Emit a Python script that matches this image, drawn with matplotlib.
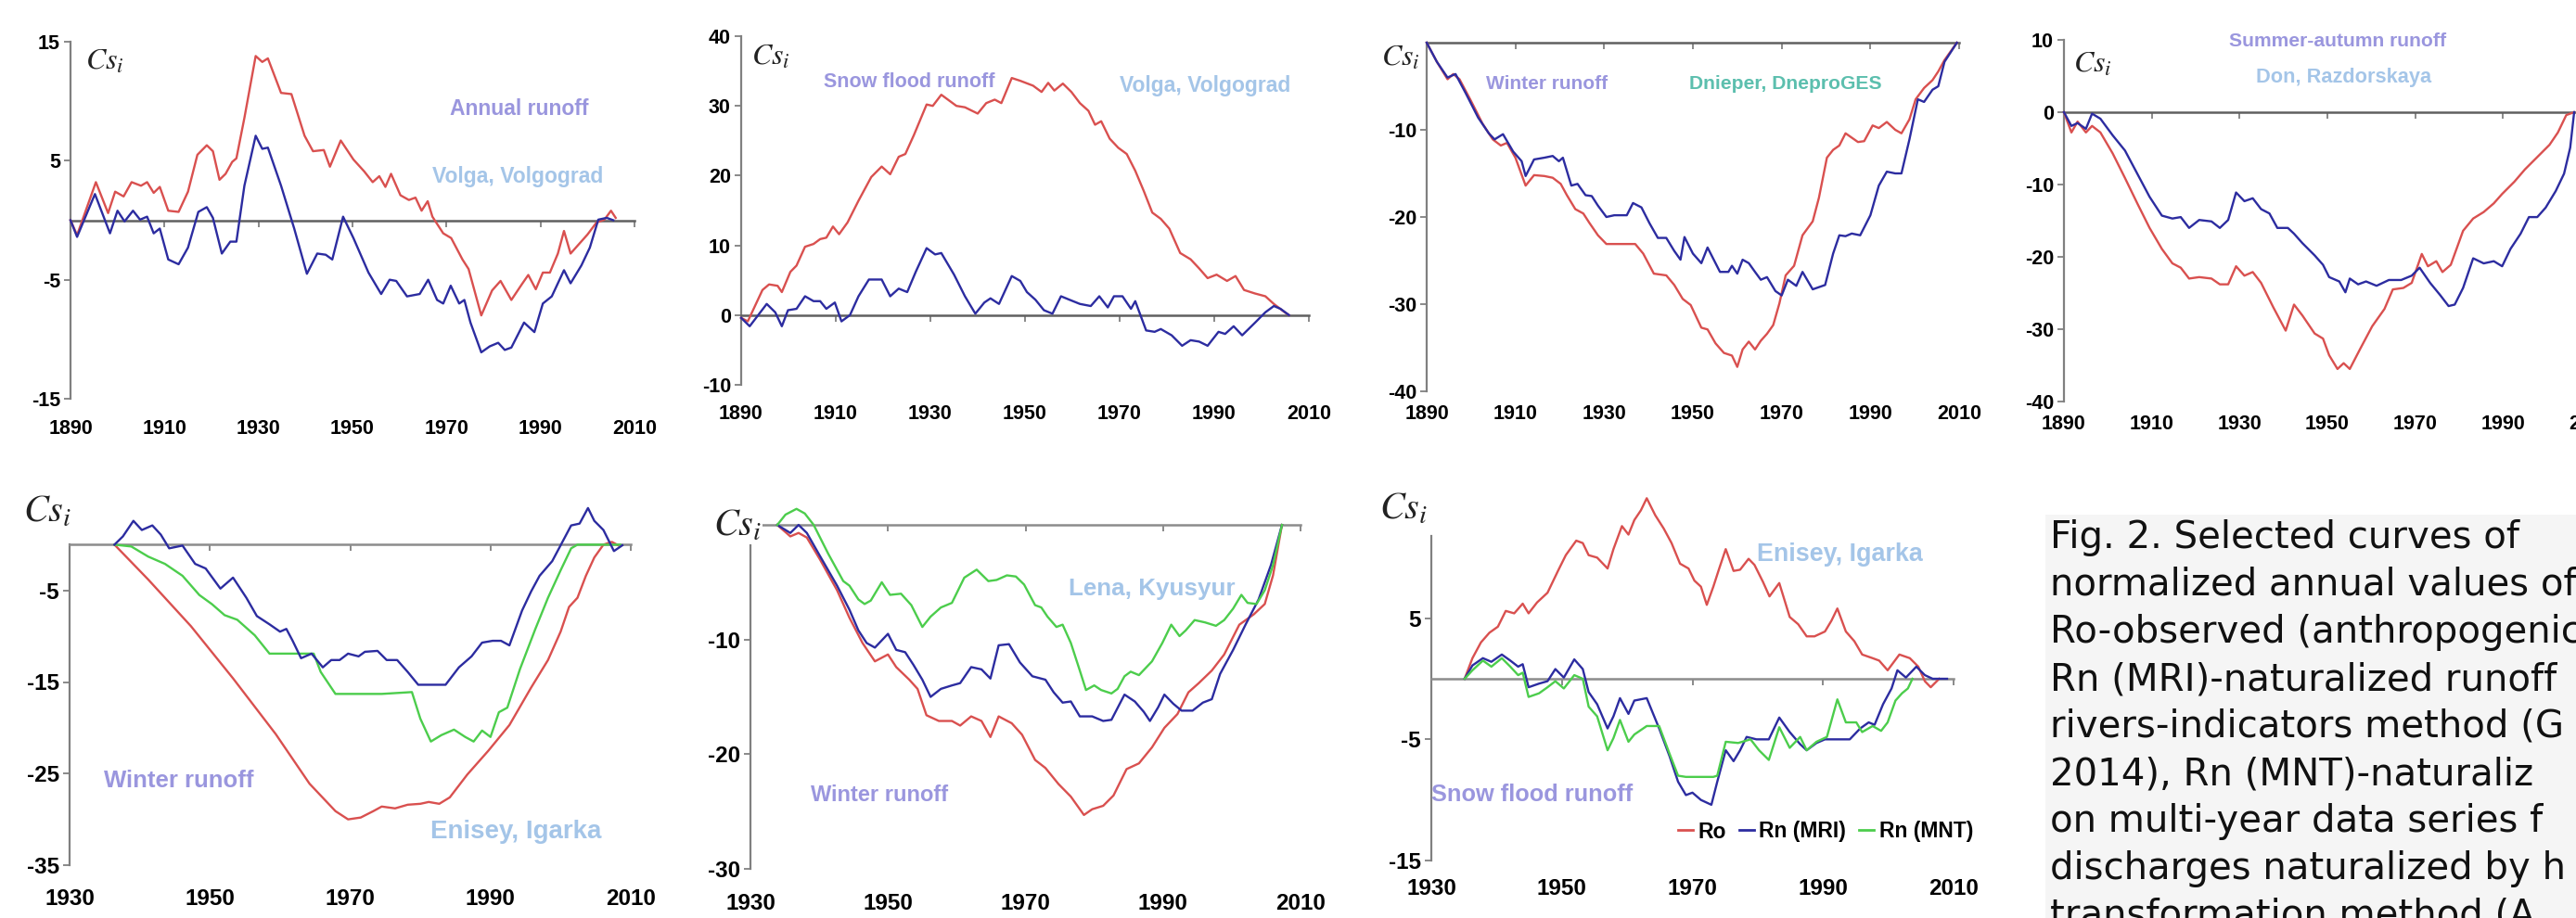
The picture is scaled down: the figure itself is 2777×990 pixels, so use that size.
import numpy as np
import matplotlib
matplotlib.use("Agg")
import matplotlib.pyplot as plt
from matplotlib.lines import Line2D
from matplotlib.patches import Rectangle

plt.rcParams['font.family'] = ['Liberation Sans', 'DejaVu Sans']
plt.rcParams['mathtext.fontset'] = 'stix'
plt.rcParams['axes.unicode_minus'] = False

# ---------------- data (year, Cs_i) ----------------
# Panel 1: Volga, Volgograd - annual runoff
ro1 = [(1890,0),(1891.4,-1.25),(1895.4,3.2),(1898,0.6),(1899.5,2.4),(1901.3,2.0),(1903,3.2),(1905,2.9),(1906.3,3.2),
       (1907.7,2.3),(1909,2.8),(1910.8,0.8),(1913,0.7),(1915,2.4),(1917,5.5),(1919,6.3),(1920.3,5.8),(1921.7,3.4),
       (1923,3.9),(1924.4,4.9),(1925.3,5.2),(1927,8.6),(1929.4,13.8),(1930.8,13.3),(1932,13.6),(1934.8,10.7),
       (1937,10.6),(1939.8,7.1),(1941.6,5.8),(1943.9,5.9),(1945.2,4.5),(1947.5,6.7),(1950.2,5.1),(1952.5,4.1),
       (1954.3,3.2),(1955.7,3.7),(1957,2.8),(1958.2,3.9),(1960.2,2.1),(1962,1.7),(1963.4,1.9),(1964.7,0.8),
       (1966,1.6),(1967,0.3),(1969.3,-1.1),(1971,-1.5),(1973.4,-3.3),(1974.7,-4.1),(1977.4,-8.0),(1979.7,-5.9),
       (1981.5,-5.1),(1983.8,-6.7),(1986,-5.4),(1987.4,-4.6),(1989,-5.8),(1990.5,-4.4),(1992,-4.4),(1993.7,-2.8),
       (1995,-0.9),(1996.4,-2.8),(1998.2,-2.0),(2000,-1.2),(2001.9,-0.2),(2003.6,0.05),(2005,0.8),(2006,0.2)]
rn1 = [(1890,0),(1891.4,-1.4),(1895.2,2.2),(1898.4,-1.1),(1900,0.8),(1901.5,-0.1),(1903.3,0.8),(1904.8,0.05),
       (1906.3,0.3),(1907.7,-1.1),(1909,-0.7),(1910.8,-3.3),(1913,-3.7),(1915,-2.3),(1917.2,0.7),(1919,1.1),
       (1920.3,0.2),(1922.2,-2.8),(1924,-1.8),(1925.3,-1.8),(1927,2.9),(1929.4,7.1),(1930.8,6.0),(1932,6.1),
       (1934.8,2.9),(1937.6,-0.7),(1940.3,-4.5),(1942.5,-2.8),(1944.3,-2.9),(1945.7,-3.3),(1948,0.3),(1950.2,-1.5),
       (1953.4,-4.4),(1956.1,-6.2),(1957.9,-5.0),(1959.3,-5.1),(1961.6,-6.4),(1964.3,-6.2),(1966.1,-5.0),
       (1968,-6.7),(1969.3,-7.0),(1970.9,-5.5),(1972.7,-7.0),(1973.8,-6.7),(1975.1,-8.6),(1977.4,-11.1),
       (1979.2,-10.6),(1981,-10.3),(1982.4,-10.9),(1983.8,-10.7),(1986.5,-8.6),(1988.7,-9.4),(1990.5,-7.0),
       (1992.4,-6.4),(1995,-4.2),(1996.4,-5.3),(1998.7,-3.8),(2000.5,-2.3),(2002.3,0.05),(2004.1,0.2),(2005.5,0)]

# Panel 2: Volga, Volgograd - snow flood runoff
ro2 = [(1890,-0.4),(1891.4,-0.9),(1894.5,3.6),(1895.9,4.4),(1897.7,4.2),(1898.6,3.3),(1900.4,6.2),(1901.7,7.1),
       (1903.5,9.8),(1905.3,10.2),(1906.7,10.9),(1908,11.1),(1909.4,12.7),(1910.7,11.6),(1912.5,13.3),
       (1914.8,16.4),(1917.5,19.8),(1919.7,21.3),(1921.5,20.2),(1923.3,22.7),(1924.7,23.1),(1926.5,25.8),
       (1929.2,30.2),(1930.5,30.0),(1932.3,31.6),(1933.7,30.9),(1935.5,30.0),(1937.3,29.8),(1940,28.9),
       (1941.8,30.4),(1943.6,30.9),(1945,30.4),(1947.2,34.0),(1949,33.6),(1951.7,32.9),(1953.5,32.0),
       (1954.9,33.3),(1956.2,32.2),(1958,33.2),(1959.8,32.0),(1961.6,30.4),(1963.4,29.3),(1964.8,27.3),
       (1966.1,27.8),(1967.9,25.3),(1969.7,24.0),(1971.5,23.1),(1973.3,20.7),(1975.1,17.8),(1976.9,14.7),
       (1978.7,13.8),(1980.5,12.4),(1982.8,8.9),(1985,8.0),(1986.8,6.7),(1988.6,5.3),(1990.5,5.8),(1992.7,4.9),
       (1994.5,5.6),(1996.3,3.6),(1998.6,3.1),(2000.8,2.7),(2002.6,1.6),(2004.9,0.4),(2005.8,0)]
rn2 = [(1890,-0.4),(1891.8,-1.6),(1895.4,1.6),(1897.2,0.4),(1898.6,-1.6),(1899.9,0.7),(1901.7,0.9),(1903.5,2.7),
       (1905.3,2.0),(1906.7,2.0),(1908,0.9),(1909.8,1.8),(1911.2,-0.9),(1913,0),(1914.8,2.7),(1917,5.1),
       (1918.4,5.1),(1919.7,5.1),(1921.5,2.7),(1923.3,3.8),(1925.1,3.3),(1926.9,6.2),(1929.2,9.6),(1931,8.7),
       (1932.3,8.9),(1935,5.8),(1937.3,2.7),(1939.5,0.2),(1941.4,1.8),(1942.7,2.4),(1944.5,1.6),(1947.2,5.6),
       (1949,4.9),(1950.4,3.3),(1952.2,2.2),(1954,0.7),(1955.8,0.2),(1957.6,2.7),(1959.4,2.2),(1961.6,1.6),
       (1963.9,1.3),(1965.7,2.7),(1967.5,1.1),(1968.8,2.7),(1970.6,2.7),(1972.4,0.9),(1973.3,2.0),(1975.6,-2.2),
       (1977.4,-2.4),(1978.7,-2.0),(1981,-2.9),(1983.2,-4.4),(1985,-3.6),(1986.8,-3.8),(1988.6,-4.4),
       (1990.9,-2.4),(1992.3,-2.7),(1994.1,-1.6),(1995.9,-2.9),(1998.6,-1.1),(2000.8,0.4),(2002.6,1.3),
       (2004,0.9),(2005.8,0)]

# Panel 3: Dnieper, DneproGES - winter runoff
ro3 = [(1890,0),(1892.3,-2.2),(1894.7,-4.2),(1896,-3.6),(1897.4,-4.2),(1899.8,-6.5),(1902.6,-9.3),(1904.9,-11.1),
       (1906.7,-11.8),(1908.1,-11.5),(1910,-13.2),(1912.3,-16.4),(1914.2,-15.2),(1916.5,-15.3),(1918.4,-15.5),
       (1920.2,-16.2),(1921.6,-17.5),(1923.5,-19.1),(1925.3,-19.6),(1926.7,-20.7),(1928.6,-22.1),(1930.5,-23.1),
       (1934.2,-23.1),(1937,-23.1),(1938.8,-24.2),(1941.2,-26.5),(1944,-26.7),(1945.8,-27.8),(1947.7,-29.4),
       (1949.5,-30.1),(1951.9,-32.7),(1953.3,-32.9),(1955.1,-34.5),(1957,-35.6),(1958.8,-35.9),(1960,-37.2),
       (1961.2,-35.2),(1962.6,-34.3),(1964,-35.2),(1965.3,-34.2),(1966.7,-33.4),(1968.1,-32.4),(1969.5,-29.9),
       (1970.9,-26.7),(1972.8,-25.6),(1974.7,-22.1),(1977,-20.5),(1978.4,-17.8),(1980.2,-13.2),(1981.6,-12.3),
       (1983,-11.8),(1984.4,-10.4),(1985.8,-10.9),(1987.2,-11.4),(1988.6,-11.3),(1990.5,-9.5),(1991.9,-9.8),
       (1993.7,-9.1),(1995.6,-10.0),(1997,-10.4),(1998.8,-8.8),(2000.2,-6.5),(2002.1,-5.2),(2004,-4.3),
       (2005.3,-3.3),(2006.7,-2.0),(2009.5,0)]
rn3 = [(1890,0),(1892.3,-2.2),(1894.7,-4.0),(1896.5,-3.6),(1898.8,-5.8),(1901.6,-8.6),(1904,-10.4),(1905.3,-11.1),
       (1907.2,-10.5),(1909.5,-12.5),(1911.4,-13.6),(1912.3,-15.3),(1914.2,-13.4),(1916.5,-13.2),(1918.4,-13.0),
       (1919.8,-13.6),(1920.7,-13.2),(1922.6,-16.4),(1924,-16.2),(1925.8,-17.5),(1927.2,-17.6),(1928.6,-18.7),
       (1930.5,-20.0),(1932.3,-19.8),(1935.1,-19.8),(1936.5,-18.4),(1938.4,-18.9),(1940.2,-20.7),(1942.1,-22.4),
       (1944,-22.4),(1945.8,-23.9),(1947.2,-24.9),(1948.1,-22.3),(1950,-24.2),(1951.9,-25.3),(1953.3,-23.5),
       (1954.7,-24.9),(1956.1,-26.3),(1958,-26.3),(1958.8,-25.6),(1960,-26.5),(1961.2,-24.9),(1962.6,-25.3),
       (1964,-26.3),(1965.3,-27.2),(1966.7,-26.9),(1968.6,-28.5),(1970,-29.0),(1971.4,-27.2),(1973.3,-27.9),
       (1974.7,-26.3),(1977,-28.3),(1979.8,-27.8),(1981.6,-24.2),(1983,-22.1),(1984.4,-22.2),(1985.8,-21.9),
       (1987.7,-22.1),(1990,-19.8),(1991.9,-16.4),(1993.7,-14.8),(1995.6,-15.0),(1997,-15.0),(1998.8,-11.1),
       (2000.7,-6.5),(2002.1,-6.8),(2004,-5.4),(2005.3,-5.0),(2006.7,-2.2),(2009.5,0)]

# Panel 4: Don, Razdorskaya - summer-autumn runoff
ro4 = [(1890,0),(1891.7,-2.8),(1893.1,-1.3),(1895,-2.8),(1896.4,-1.9),(1898.3,-2.8),(1901.1,-5.7),(1903.9,-9.1),
       (1906.7,-12.6),(1909.5,-16.0),(1912.3,-18.9),(1914.7,-20.9),(1916.6,-21.5),(1918.5,-23.0),(1920.8,-22.8),
       (1923.6,-23.0),(1925.5,-23.8),(1927.4,-23.8),(1929.2,-21.3),(1931.1,-22.6),(1933,-22.1),(1934.9,-23.6),
       (1937.7,-27.0),(1940.5,-30.2),(1942.4,-26.6),(1944.3,-28.1),(1947.1,-30.6),(1949,-31.3),(1950.4,-33.6),
       (1952.3,-35.5),(1953.7,-34.7),(1955.1,-35.5),(1957.4,-32.8),(1960.2,-29.6),(1963,-27.2),(1964.9,-24.5),
       (1967.3,-24.3),(1969.2,-23.6),(1971.5,-19.6),(1972.9,-21.3),(1974.8,-20.6),(1976.2,-22.1),(1978.1,-21.1),
       (1980.9,-16.4),(1983.2,-14.7),(1985.6,-13.8),(1987.9,-12.6),(1989.8,-11.3),(1992.6,-9.6),(1995,-7.9),
       (1997.8,-6.2),(2000.6,-4.5),(2002.5,-2.8),(2004.4,-0.4),(2006.2,0)]
rn4 = [(1890,0),(1891.7,-1.9),(1893.1,-1.5),(1895,-2.3),(1896.4,-0.2),(1898.3,-0.9),(1901.1,-3.2),(1903.9,-5.3),
       (1906.7,-8.5),(1909.5,-11.7),(1912.3,-14.3),(1914.7,-14.7),(1916.6,-14.5),(1918.5,-16.0),(1920.8,-14.9),
       (1923.6,-15.1),(1925.5,-16.0),(1927.4,-14.9),(1929.2,-11.1),(1931.1,-12.3),(1933,-11.9),(1934.9,-13.4),
       (1936.8,-14.0),(1938.6,-16.0),(1941,-16.0),(1942.4,-16.8),(1944.3,-18.1),(1947.1,-19.8),(1949,-21.1),
       (1950.4,-22.8),(1952.7,-23.4),(1954.1,-24.9),(1955.1,-23.0),(1957,-23.8),(1958.8,-23.4),(1961.2,-24.0),
       (1964,-23.2),(1966.8,-23.2),(1969.2,-22.6),(1971,-21.5),(1973.4,-23.6),(1975.7,-25.3),(1977.6,-26.8),
       (1979,-26.6),(1980.9,-24.3),(1983.2,-20.2),(1985.6,-20.9),(1987.9,-20.6),(1989.8,-21.3),(1991.7,-18.9),
       (1994,-16.8),(1995.9,-14.5),(1997.8,-14.5),(1999.7,-13.2),(2002,-10.9),(2003.9,-8.5),(2005.3,-4.9),
       (2006.2,0)]

# Panel 5: Enisey, Igarka - winter runoff
ro5 = [(1936.4,0),(1941.2,-3.8),(1947.3,-8.9),(1953.3,-14.6),(1959.4,-20.7),(1964.2,-26.1),(1967.9,-29.1),
       (1969.7,-30.0),(1971.5,-29.8),(1973.3,-29.1),(1974.5,-28.6),(1976.4,-28.8),(1978.2,-28.4),(1980,-28.3),
       (1981.2,-28.1),(1982.7,-28.3),(1984.2,-27.6),(1986.7,-25.1),(1989.7,-22.5),(1992.7,-19.7),(1995.8,-15.6),
       (1998.2,-12.6),(2000,-9.5),(2001.2,-6.8),(2002.4,-5.8),(2003.6,-3.4),(2004.8,-1.4),(2006.1,0),
       (2007.3,0.3),(2008.2,-0.07)]
rn5 = [(1936.4,0),(1937.6,0.9),(1939.1,2.6),(1940.3,1.6),(1941.8,2.1),(1943,1.1),(1944.2,-0.4),(1946.1,-0.1),
       (1947.9,-2.1),(1949.4,-2.6),(1951.5,-4.8),(1953.3,-3.6),(1955.2,-5.8),(1956.7,-7.8),(1958.5,-8.7),
       (1960,-9.5),(1960.9,-9.2),(1961.8,-10.5),(1963,-12.4),(1964.5,-11.9),(1966.1,-13.4),(1967.3,-12.6),
       (1968.5,-12.6),(1969.7,-11.9),(1971.2,-12.2),(1972.1,-11.7),(1973.9,-11.6),(1975.2,-12.6),(1976.7,-12.6),
       (1978.2,-13.9),(1979.7,-15.3),(1981.2,-15.3),(1982.4,-15.3),(1983.6,-15.3),(1985.5,-13.4),(1987.3,-12.2),
       (1988.8,-10.7),(1990.3,-10.5),(1991.5,-10.5),(1992.7,-11.0),(1994.5,-7.2),(1995.8,-5.1),(1997,-3.4),
       (1998.8,-1.8),(2000,-0.07),(2001.5,2.1),(2002.7,2.3),(2003.9,4.0),(2004.8,2.6),(2006.1,1.6),
       (2007.6,-0.7),(2008.8,-0.07)]
mnt5 = [(1936.4,0),(1938.8,-0.2),(1941.2,-1.3),(1943.6,-2.1),(1946.1,-3.4),(1948.5,-5.5),(1950.3,-6.5),
        (1952.1,-7.7),(1953.9,-8.2),(1956.4,-9.9),(1958.5,-11.9),(1960,-11.9),(1963.6,-11.9),(1964.8,-11.9),
        (1965.8,-13.9),(1967.9,-16.3),(1970.3,-16.3),(1974.5,-16.3),(1978.8,-16.1),(1980,-19.0),(1981.5,-21.5),
        (1983,-20.8),(1984.8,-20.2),(1986.4,-21.0),(1987.6,-21.5),(1988.8,-20.3),(1990,-21.0),(1991.2,-18.3),
        (1992.4,-17.8),(1994.2,-13.6),(1996.4,-9.2),(1998.2,-5.8),(2000,-2.8),(2001.5,-0.4),(2002.4,0),
        (2008.5,0)]

# Panel 6: Lena, Kyusyur - winter runoff
ro6 = [(1933.9,0),(1935.8,-1.0),(1937,-0.7),(1938.2,-1.1),(1940.1,-3.0),(1942.6,-5.7),(1944.4,-8.1),(1946.3,-10.3),
       (1948.1,-11.9),(1950,-11.3),(1951.2,-12.4),(1953.1,-13.5),(1954.3,-14.3),(1955.6,-16.6),(1957.4,-17.1),
       (1959.3,-17.1),(1960.5,-17.5),(1962.1,-16.7),(1963.6,-17.1),(1964.9,-18.5),(1966.1,-16.7),(1968,-17.3),
       (1969.5,-18.3),(1971.4,-20.5),(1972.9,-21.2),(1974.8,-22.6),(1976.6,-23.7),(1978.5,-25.3),(1979.7,-24.8),
       (1981.3,-24.5),(1982.8,-23.6),(1984.7,-21.3),(1986.5,-20.8),(1988.4,-19.4),(1990.2,-17.7),(1992.1,-16.5),
       (1993.7,-14.6),(1995.2,-13.8),(1997.1,-12.7),(1998.9,-11.3),(2001.1,-8.7),(2003.2,-7.8),(2004.8,-6.9),
       (2006,-4.4),(2007.3,0)]
rn6 = [(1933.9,0),(1935.8,-0.7),(1937,0),(1938.2,-0.7),(1940.1,-2.7),(1942.6,-5.3),(1944.4,-7.4),(1945.7,-9.2),
       (1946.9,-10.3),(1948.1,-10.7),(1950,-9.5),(1951.2,-10.9),(1952.5,-11.1),(1953.7,-12.2),(1955,-13.5),
       (1956.2,-15.0),(1957.7,-14.3),(1959.3,-14.0),(1960.5,-13.8),(1962.1,-12.4),(1963.6,-12.6),(1964.9,-13.4),
       (1966.1,-10.5),(1967.6,-10.4),(1969.2,-12.0),(1971,-13.2),(1972.9,-13.5),(1974.1,-14.6),(1975.4,-15.5),
       (1976.6,-15.4),(1977.9,-16.7),(1979.7,-16.7),(1981.3,-17.1),(1982.5,-17.0),(1984.4,-14.8),(1985.9,-15.4),
       (1987.2,-16.3),(1988.1,-17.1),(1989.3,-15.9),(1990.2,-14.8),(1991.5,-15.6),(1992.7,-16.2),(1994.3,-16.2),
       (1995.8,-15.5),(1997.1,-15.2),(1998.3,-13.0),(2000.2,-10.9),(2002,-8.7),(2003.9,-6.5),(2005.7,-3.5),
       (2007.3,0)]
mnt6 = [(1933.9,0),(1935.1,0.9),(1936.7,1.4),(1937.9,1.0),(1939.2,0),(1941.3,-2.5),(1943.5,-4.9),(1944.4,-5.3),
        (1945.7,-6.5),(1946.6,-6.9),(1947.5,-6.6),(1949.1,-5.0),(1950.3,-6.1),(1951.9,-6.0),(1953.4,-7.0),
        (1955,-8.9),(1956.2,-8.0),(1957.7,-7.2),(1959.3,-6.8),(1961.1,-4.6),(1962.9,-3.9),(1964.6,-4.9),
        (1965.8,-4.8),(1967.3,-4.4),(1968.6,-4.5),(1969.8,-5.2),(1971.4,-7.0),(1972.3,-7.2),(1973.2,-8.0),
        (1974.5,-8.9),(1975.4,-8.7),(1976.6,-10.3),(1977.9,-12.7),(1978.8,-14.4),(1980,-14.0),(1981,-14.4),
        (1982.5,-14.7),(1983.4,-14.3),(1984.4,-13.2),(1985.3,-12.8),(1986.5,-13.1),(1988.4,-11.9),(1989.9,-10.3),
        (1991.2,-8.7),(1992.4,-9.7),(1993.3,-9.2),(1994.6,-8.3),(1996.1,-8.5),(1997.7,-8.8),(1998.9,-8.3),
        (2000.2,-7.3),(2001.4,-6.1),(2002.3,-6.8),(2003.6,-6.9),(2004.8,-5.7),(2006,-3.5),(2007.3,0)]

# Panel 7: Enisey, Igarka - snow flood runoff
ro7 = [(1935.1,0),(1936.3,1.7),(1937.6,3.0),(1938.9,3.8),(1940.2,4.3),(1941.4,5.6),(1942.7,5.4),(1944,6.2),
       (1944.9,5.4),(1946.2,6.3),(1947.8,7.1),(1949.4,8.9),(1950.6,10.2),(1952.2,11.4),(1953.2,11.2),(1954.1,10.2),
       (1955.4,10.0),(1957,9.1),(1957.9,10.7),(1959.2,12.6),(1960.2,11.9),(1961.1,13.1),(1962.1,13.9),(1963,14.9),
       (1964.3,13.5),(1965.6,12.4),(1966.8,11.2),(1968.1,9.5),(1969.4,9.1),(1970.3,8.1),(1971.3,7.6),(1972.2,6.1),
       (1973.2,7.6),(1974.1,9.1),(1975.1,10.7),(1976.3,8.9),(1977.3,9.0),(1978.6,9.9),(1979.5,9.4),(1980.8,8.0),
       (1981.8,6.8),(1983.3,7.9),(1984.9,5.1),(1986.2,4.5),(1987.5,3.5),(1988.7,3.5),(1990.3,3.9),(1991.3,4.8),
       (1992.2,5.8),(1993.5,3.9),(1994.8,3.1),(1996,2.0),(1997.6,1.7),(1998.6,1.5),(1999.9,0.7),(2001.7,2.0),
       (2003.3,1.7),(2004.6,1.0),(2005.6,-0.2),(2006.5,-0.7),(2007.8,0)]
rn7 = [(1935.1,0),(1936.3,1.1),(1937.9,1.7),(1939.2,1.4),(1940.8,2.0),(1942.1,1.5),(1943.3,1.0),(1944,1.2),
       (1944.9,-0.7),(1946.5,-0.4),(1947.8,-0.2),(1949,0.8),(1950.3,0.1),(1951.9,1.6),(1953.2,0.8),(1954.1,-1.1),
       (1955.4,-2.1),(1957,-4.1),(1957.9,-3.1),(1958.9,-1.6),(1960.2,-2.9),(1961.1,-1.8),(1963,-1.6),(1964.9,-4.1),
       (1966.5,-6.4),(1967.8,-8.5),(1969,-9.6),(1970,-9.4),(1971.3,-10.0),(1972.9,-10.4),(1973.8,-8.5),
       (1975.1,-5.9),(1976.3,-6.8),(1977.3,-5.9),(1978.3,-4.8),(1979.8,-5.0),(1981.7,-5.0),(1983.3,-3.2),
       (1984.9,-4.4),(1986.5,-5.4),(1987.5,-5.9),(1989,-5.3),(1990.3,-5.0),(1992.2,-5.0),(1994.1,-5.0),
       (1995.7,-4.1),(1997,-3.6),(1997.9,-3.8),(1999.2,-2.1),(2000.5,-0.8),(2001.4,0.7),(2002.7,0.1),(2004.3,1.0),
       (2005.6,0.3),(2006.8,0),(2009,0)]
mnt7 = [(1935.1,0),(1936.3,0.7),(1937.9,1.5),(1939.2,1.0),(1940.8,1.7),(1942.1,1.0),(1943.3,0.3),(1944,0.5),
        (1944.9,-1.5),(1946.5,-1.2),(1947.8,-0.7),(1949,-0.2),(1950.3,-0.8),(1951.9,0.3),(1953.2,0),(1954.1,-2.3),
        (1955.4,-3.1),(1957,-5.9),(1957.9,-4.9),(1958.9,-3.4),(1960.2,-5.2),(1961.1,-4.6),(1963,-3.9),(1964.9,-3.9),
        (1966.5,-6.2),(1967.8,-8.0),(1969,-8.1),(1973.2,-8.1),(1973.8,-8.0),(1975.1,-5.2),(1977,-5.3),(1978.9,-5.0),
        (1980.2,-5.9),(1981.7,-6.7),(1983.3,-4.0),(1984.9,-5.7),(1986.5,-4.8),(1987.5,-5.9),(1989,-5.2),
        (1990.6,-4.8),(1992.2,-1.7),(1993.5,-3.6),(1995.1,-3.6),(1996,-4.4),(1997.6,-3.9),(1998.9,-4.3),
        (1999.9,-3.6),(2001.1,-1.8),(2002.1,-1.2),(2003,-0.8),(2003.7,0)]

top_xticks = [1890, 1910, 1930, 1950, 1970, 1990, 2010]
bot_xticks = [1930, 1950, 1970, 1990, 2010]
legend_labels = ['Ro', 'Rn (MRI)', 'Rn (MNT)']

caption_lines = ["Fig. 2. Selected curves of",
                 "normalized annual values of",
                 "Ro-observed (anthropogenic",
                 "Rn (MRI)-naturalized runoff",
                 "rivers-indicators method (G",
                 "2014), Rn (MNT)-naturaliz",
                 "on multi-year data series f",
                 "discharges naturalized by h",
                 "transformation method (A"]

# ---------------- style ----------------
W, H = 2777, 990
RED = '#d9504f'
BLUE = '#2c2ca0'
GREEN = '#4ccd4c'
LAV = '#9a96de'
LBLUE = '#a4c5e8'
TEAL = '#5cbfae'
AXC = '#808080'

fig = plt.figure(figsize=(W / 100, H / 100), dpi=100)
fig.patch.set_facecolor('white')

# caption background
fig.patches.append(Rectangle((2205 / W, 0), 1 - 2205 / W, 1 - 555 / H, transform=fig.transFigure,
                             facecolor='#f5f5f5', edgecolor='none', zorder=0))


def make_axes(x0, x1, ytop, ybot):
    return fig.add_axes([x0 / W, 1 - ybot / H, (x1 - x0) / W, (ybot - ytop) / H])


def setup(ax, xlim, ylim, xticks, yticks, ybounds, tfs, xpad, zc):
    ax.set_xlim(*xlim)
    ax.set_ylim(*ylim)
    ax.patch.set_alpha(0)
    for s in ['top', 'right']:
        ax.spines[s].set_visible(False)
    ax.spines['left'].set_color(AXC)
    ax.spines['left'].set_linewidth(1.6)
    ax.spines['left'].set_bounds(*ybounds)
    ax.spines['bottom'].set_position(('data', 0))
    ax.spines['bottom'].set_color(zc)
    ax.spines['bottom'].set_linewidth(1.8)
    ax.set_xticks(xticks)
    ax.tick_params(axis='x', direction='out', length=5, width=1.3, color=AXC, labelbottom=False)
    ax.set_yticks(yticks, labels=[str(v) for v in yticks], fontsize=tfs, fontweight='bold')
    ax.tick_params(axis='y', direction='out', length=5, width=1.3, color=AXC, pad=3)
    sec = ax.secondary_xaxis(0)
    sec.set_xticks(xticks, labels=[str(v) for v in xticks], fontsize=tfs, fontweight='bold')
    sec.tick_params(length=0, pad=xpad)
    sec.spines['bottom'].set_visible(False)


def plot_series(ax, data, color):
    arr = np.array(data)
    ax.plot(arr[:, 0], arr[:, 1], color=color, lw=1.7, clip_on=False, zorder=3)


def ftext(x, y, s, color, size, weight='bold', ha='center', **kw):
    fig.text(x / W, 1 - y / H, s, color=color, fontsize=size, fontweight=weight,
             ha=ha, va='center', **kw)


def cs_label(x, y, size, bg=False):
    kw = {}
    if bg:
        kw['bbox'] = dict(facecolor='white', edgecolor='none', pad=1)
    fig.text(x / W, 1 - y / H, r'$Cs_i$', fontsize=size, ha='left', va='center',
             color='#222222', zorder=10, **kw)


# ---------- top row ----------
TZ = '#606060'
ax1 = make_axes(76, 684, 45, 430)
setup(ax1, (1890, 2010), (-15, 15), top_xticks, [15, 5, -5, -15], (-15, 15), 15.5, 16, TZ)
plot_series(ax1, ro1, RED)
plot_series(ax1, rn1, BLUE)
cs_label(92, 67, 23)
ftext(560, 118, 'Annual runoff', LAV, 16.5)
ftext(558, 190, 'Volga, Volgograd', LBLUE, 16.5)

ax2 = make_axes(799, 1411, 39, 415)
setup(ax2, (1890, 2010), (-10, 40), top_xticks, [40, 30, 20, 10, 0, -10], (-10, 40), 15.5, 15, TZ)
plot_series(ax2, ro2, RED)
plot_series(ax2, rn2, BLUE)
cs_label(810, 62, 23)
ftext(980, 88, 'Snow flood runoff', LAV, 15.5)
ftext(1299, 93, 'Volga, Volgograd', LBLUE, 16.5)

ax3 = make_axes(1538, 2112, 46, 422)
setup(ax3, (1890, 2010), (-40, 0), top_xticks, [-10, -20, -30, -40], (-40, 0), 15.5, 10, TZ)
plot_series(ax3, ro3, RED)
plot_series(ax3, rn3, BLUE)
cs_label(1489, 63, 23)
ftext(1668, 90, 'Winter runoff', LAV, 15)
ftext(1925, 90, 'Dnieper, DneproGES', TEAL, 15.2)

ax4 = make_axes(2225, 2793, 43, 433)
setup(ax4, (1890, 2010), (-40, 10), top_xticks, [10, 0, -10, -20, -30, -40], (-40, 10), 15.5, 10, TZ)
plot_series(ax4, ro4, RED)
plot_series(ax4, rn4, BLUE)
cs_label(2235, 70, 23)
ftext(2520, 45, 'Summer-autumn runoff', LAV, 15.2)
ftext(2527, 83, 'Don, Razdorskaya', LBLUE, 15.7)

# ---------- bottom row ----------
BZ = '#8c8c8c'
ax5 = make_axes(75, 680, 538, 933)
setup(ax5, (1930, 2010), (-35, 5), bot_xticks, [-5, -15, -25, -35], (-35, 0), 17.5, 18, BZ)
plot_series(ax5, ro5, RED)
plot_series(ax5, mnt5, GREEN)
plot_series(ax5, rn5, BLUE)
cs_label(25, 552, 29)
ftext(193, 842, 'Winter runoff', LAV, 18.5)
ftext(556, 897, 'Enisey, Igarka', LBLUE, 20)

ax6 = make_axes(809, 1402, 529, 937)
setup(ax6, (1930, 2010), (-30, 3), bot_xticks, [-10, -20, -30], (-30, 0), 17.5, 19, BZ)
plot_series(ax6, ro6, RED)
plot_series(ax6, rn6, BLUE)
plot_series(ax6, mnt6, GREEN)
cs_label(769, 567, 29, bg=True)
ftext(1242, 635, 'Lena, Kyusyur', LBLUE, 18.7)
ftext(948, 858, 'Winter runoff', LAV, 17)

ax7 = make_axes(1543, 2106, 536, 928)
setup(ax7, (1930, 2010), (-15, 15), bot_xticks, [5, -5, -15], (-15, 11.8), 17.5, 14, BZ)
plot_series(ax7, ro7, RED)
plot_series(ax7, rn7, BLUE)
plot_series(ax7, mnt7, GREEN)
cs_label(1487, 549, 29)
ftext(1983, 598, 'Enisey, Igarka', LBLUE, 19.4)
ftext(1543, 857, 'Snow flood runoff', LAV, 18.3, ha='left')
handles = [Line2D([], [], color=c, lw=2) for c in (RED, BLUE, GREEN)]
ax7.legend(handles, legend_labels, ncol=3, frameon=False, handlelength=0.7, handletextpad=0.25,
           columnspacing=0.6, prop={'weight': 'bold', 'size': 16.5}, loc='center',
           bbox_to_anchor=(1968 / W, 1 - 897 / H), bbox_transform=fig.transFigure)

# ---------- caption ----------
for i, line in enumerate(caption_lines):
    fig.text(2210 / W, 1 - (580 + 51 * i) / H, line, fontsize=29, family='DejaVu Sans',
             color='#111111', ha='left', va='center')

fig.savefig('out.png', dpi=100, facecolor='white')
